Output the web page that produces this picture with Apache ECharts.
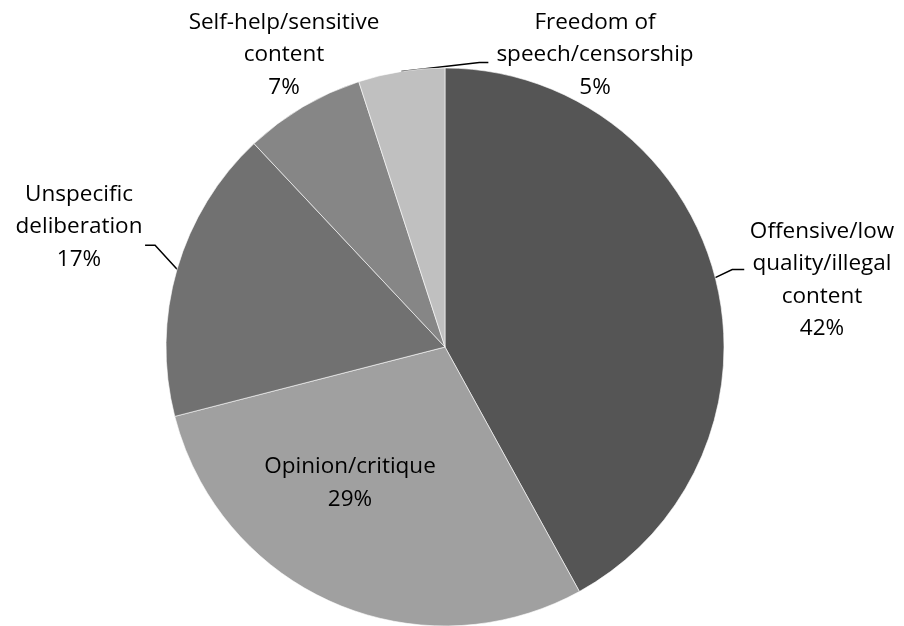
<!DOCTYPE html>
<html>
<head>
<meta charset="utf-8">
<script src="https://cdn.jsdelivr.net/npm/echarts@6/dist/echarts.min.js"></script>
<style>
html,body{margin:0;padding:0;background:#fff;}
#chart{width:904px;height:626px;}
</style>
</head>
<body>
<div id="chart"></div>
<script>
var categories = [
  'Offensive/low\nquality/illegal\ncontent',
  'Opinion/critique',
  'Unspecific\ndeliberation',
  'Self-help/sensitive\ncontent',
  'Freedom of\nspeech/censorship'
];
var values = [42, 29, 17, 7, 5];
var colors = ['#555555', '#a0a0a0', '#717171', '#868686', '#c0c0c0'];
var showLine = [true, false, true, false, true];
// label block centres (layout only)
var labelPos = [[822, 280], [350, 483], [79, 227], [284, 55], [595, 55]];
// leader-line bends relative to the slice-edge anchor (layout only)
var lineOffsets = [
  [[17, -8], [29, -8]],
  null,
  [[-22, -24], [-32, -24]],
  null,
  [[78, -9], [87, -9]]
];

var chart = echarts.init(document.getElementById('chart'), null, {renderer: 'canvas'});
var data = categories.map(function (c, i) {
  return {
    name: c,
    value: values[i],
    itemStyle: {color: colors[i]},
    labelLine: {show: showLine[i]}
  };
});
chart.setOption({
  animation: false,
  backgroundColor: '#ffffff',
  series: [{
    type: 'pie',
    center: [445, 347],
    radius: 279,
    startAngle: 90,
    clockwise: true,
    avoidLabelOverlap: false,
    itemStyle: {borderColor: '#ffffff', borderWidth: 0.6},
    label: {
      show: true,
      formatter: '{b}\n{d}%',
      fontFamily: 'Open Sans',
      fontSize: 22.5,
      lineHeight: 32.5,
      color: '#000',
      align: 'center'
    },
    labelLine: {
      show: true,
      length: 10,
      length2: 10,
      lineStyle: {color: '#000', width: 1.5}
    },
    labelLayout: function (p) {
      var i = p.dataIndex;
      var pos = labelPos[i];
      var res = {
        x: pos[0],
        y: pos[1],
        align: 'center',
        verticalAlign: 'middle'
      };
      var off = lineOffsets[i];
      if (off && p.labelLinePoints && p.labelLinePoints.length) {
        var a = p.labelLinePoints[0];
        res.labelLinePoints = [
          [a[0], a[1]],
          [a[0] + off[0][0], a[1] + off[0][1]],
          [a[0] + off[1][0], a[1] + off[1][1]]
        ];
      }
      return res;
    },
    data: data
  }]
});
</script>
</body>
</html>
